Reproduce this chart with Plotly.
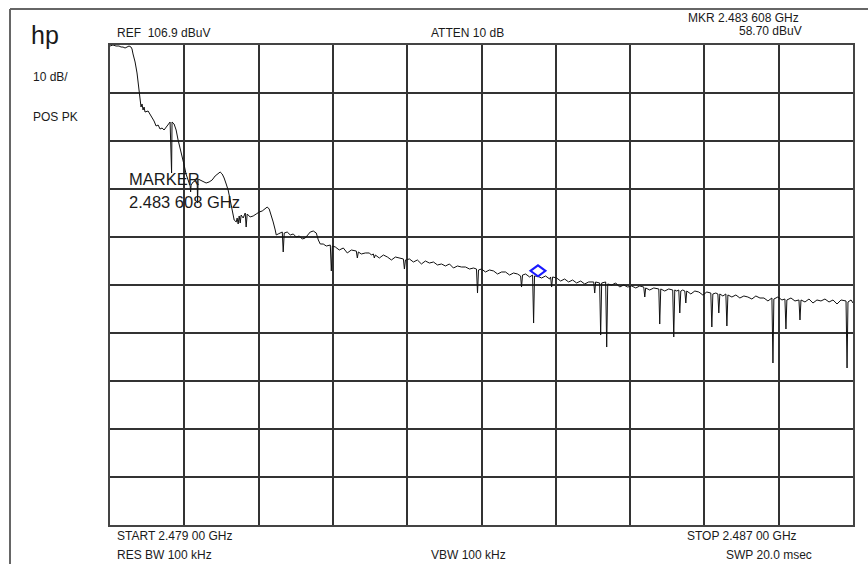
import plotly.graph_objects as go

# Sweep settings shown on the analyzer screen
START_MHZ = 2479.0
STOP_MHZ = 2487.0
REF_LEVEL = 106.9      # dBuV, top graticule line
DB_PER_DIV = 10.0
MARKER_FREQ = 2483.608  # MHz
MARKER_LEVEL = 58.70    # dBuV

# Positive-peak trace: frequency (MHz) and level (dBuV)
freq_mhz = [
    2479.000, 2479.032, 2479.065, 2479.097, 2479.119, 2479.140, 2479.162, 2479.183, 2479.205, 2479.226,
    2479.237, 2479.248, 2479.270, 2479.291, 2479.313, 2479.334, 2479.345, 2479.356, 2479.367, 2479.377,
    2479.410, 2479.431, 2479.453, 2479.474, 2479.496, 2479.518, 2479.539, 2479.561, 2479.582, 2479.604,
    2479.625, 2479.647, 2479.663, 2479.668, 2479.690, 2479.712, 2479.733, 2479.755, 2479.776, 2479.798,
    2479.819, 2479.841, 2479.863, 2479.868, 2479.873, 2479.895, 2479.916, 2479.938, 2479.943, 2479.949,
    2479.970, 2480.003, 2480.035, 2480.067, 2480.100, 2480.132, 2480.164, 2480.186, 2480.208, 2480.229,
    2480.251, 2480.272, 2480.294, 2480.315, 2480.337, 2480.359, 2480.369, 2480.380, 2480.391, 2480.402,
    2480.412, 2480.434, 2480.456, 2480.466, 2480.477, 2480.509, 2480.542, 2480.574, 2480.607, 2480.639,
    2480.671, 2480.693, 2480.714, 2480.736, 2480.757, 2480.779, 2480.790, 2480.811, 2480.833, 2480.855,
    2480.865, 2480.876, 2480.908, 2480.941, 2480.973, 2481.005, 2481.038, 2481.070, 2481.102, 2481.135,
    2481.156, 2481.189, 2481.221, 2481.243, 2481.264, 2481.296, 2481.329, 2481.372, 2481.383, 2481.394,
    2481.426, 2481.469, 2481.512, 2481.555, 2481.598, 2481.652, 2481.663, 2481.674, 2481.706, 2481.749,
    2481.793, 2481.814, 2481.836, 2481.846, 2481.857, 2481.900, 2481.944, 2481.987, 2482.030, 2482.073,
    2482.116, 2482.159, 2482.170, 2482.181, 2482.224, 2482.267, 2482.310, 2482.353, 2482.396, 2482.439,
    2482.483, 2482.526, 2482.569, 2482.612, 2482.655, 2482.698, 2482.741, 2482.784, 2482.828, 2482.871,
    2482.914, 2482.946, 2482.957, 2482.968, 2483.000, 2483.043, 2483.086, 2483.130, 2483.173, 2483.216,
    2483.259, 2483.302, 2483.345, 2483.388, 2483.421, 2483.431, 2483.442, 2483.475, 2483.518, 2483.550,
    2483.561, 2483.571, 2483.608, 2483.647, 2483.690, 2483.733, 2483.744, 2483.755, 2483.766, 2483.809,
    2483.852, 2483.895, 2483.938, 2483.981, 2484.024, 2484.068, 2484.111, 2484.154, 2484.208, 2484.219,
    2484.229, 2484.272, 2484.283, 2484.294, 2484.337, 2484.348, 2484.359, 2484.402, 2484.445, 2484.488,
    2484.531, 2484.574, 2484.617, 2484.661, 2484.704, 2484.747, 2484.758, 2484.768, 2484.811, 2484.855,
    2484.909, 2484.919, 2484.930, 2484.973, 2485.016, 2485.059, 2485.070, 2485.081, 2485.102, 2485.124,
    2485.135, 2485.146, 2485.167, 2485.189, 2485.200, 2485.210, 2485.254, 2485.297, 2485.340, 2485.383,
    2485.426, 2485.469, 2485.480, 2485.491, 2485.523, 2485.545, 2485.555, 2485.566, 2485.599, 2485.631,
    2485.642, 2485.653, 2485.696, 2485.739, 2485.782, 2485.825, 2485.868, 2485.911, 2485.954, 2485.998,
    2486.041, 2486.084, 2486.127, 2486.138, 2486.148, 2486.191, 2486.235, 2486.267, 2486.278, 2486.288,
    2486.332, 2486.375, 2486.418, 2486.429, 2486.440, 2486.483, 2486.526, 2486.569, 2486.612, 2486.655,
    2486.698, 2486.742, 2486.785, 2486.828, 2486.871, 2486.925, 2486.936, 2486.946, 2486.979, 2487.000,
]

level_dbuv = [
    106.69, 106.90, 106.69, 106.69, 106.48, 106.48, 106.27, 106.48, 106.69, 106.48,
    106.07, 105.03, 103.36, 101.07, 97.11, 93.98, 94.61, 93.36, 93.98, 92.94,
    93.15, 92.53, 91.90, 91.07, 90.03, 90.23, 89.40, 89.61, 89.19, 89.82,
    90.23, 90.86, 80.23, 90.86, 90.44, 89.19, 87.11, 85.44, 83.98, 81.90,
    80.02, 78.57, 77.53, 76.28, 77.73, 78.36, 78.57, 79.19, 73.98, 78.98,
    78.78, 78.57, 78.15, 78.36, 78.78, 79.61, 80.23, 80.44, 80.02, 79.19,
    77.94, 76.69, 74.61, 72.11, 70.44, 70.03, 70.86, 69.61, 71.28, 69.82,
    71.48, 70.86, 71.90, 68.98, 71.69, 71.07, 71.28, 71.69, 72.11, 72.32,
    72.94, 73.15, 72.73, 71.48, 70.03, 68.36, 67.32, 67.53, 67.73, 67.94,
    63.78, 67.73, 67.94, 67.32, 67.53, 66.90, 67.11, 66.48, 66.69, 67.53,
    67.94, 68.15, 67.73, 66.28, 65.44, 65.44, 65.02, 65.23, 59.82, 65.02,
    64.82, 64.19, 64.61, 63.57, 64.19, 63.98, 62.53, 63.78, 63.36, 63.57,
    63.57, 63.15, 63.36, 62.53, 63.15, 62.52, 63.15, 62.73, 62.11, 62.73,
    62.53, 62.32, 60.23, 62.11, 62.32, 61.69, 62.11, 61.28, 61.90, 61.48,
    61.69, 61.07, 61.28, 60.86, 61.28, 60.44, 60.86, 60.65, 60.65, 60.23,
    60.44, 60.23, 55.23, 60.03, 60.23, 59.61, 60.03, 59.82, 59.19, 59.61,
    59.61, 58.98, 59.40, 59.19, 58.78, 56.48, 58.98, 59.19, 58.57, 58.98,
    48.98, 58.78, 58.70, 58.36, 58.78, 58.15, 58.57, 56.48, 58.57, 58.36,
    57.73, 58.15, 57.53, 57.94, 57.32, 57.73, 57.11, 57.53, 57.53, 55.23,
    57.53, 57.32, 46.48, 57.32, 57.53, 43.98, 57.11, 56.90, 57.32, 56.48,
    56.90, 56.48, 56.69, 56.28, 56.69, 56.48, 54.40, 56.28, 55.86, 56.28,
    56.07, 48.77, 56.07, 55.65, 56.07, 55.86, 46.07, 55.86, 55.65, 55.86,
    51.07, 55.65, 55.86, 55.65, 53.15, 55.65, 55.03, 55.65, 55.44, 54.82,
    55.44, 55.23, 48.15, 55.03, 55.23, 55.03, 51.07, 55.03, 54.61, 55.03,
    48.36, 54.82, 54.40, 54.82, 54.19, 54.61, 54.40, 53.98, 54.61, 54.19,
    54.19, 53.57, 54.19, 40.65, 53.98, 54.40, 53.78, 53.98, 47.73, 53.78,
    54.19, 53.57, 53.78, 49.61, 53.78, 53.36, 53.98, 53.15, 53.78, 53.57,
    53.98, 53.36, 53.78, 52.94, 53.78, 53.57, 39.61, 53.36, 53.78, 53.15,
]

# Screen annotation texts
header_left = "REF  106.9 dBuV"
header_mid = "ATTEN 10 dB"
header_mkr = "MKR 2.483 608 GHz"
header_mkr_level = "58.70 dBuV"
side_labels = ["10 dB/", "POS PK"]
footer_start = "START 2.479 00 GHz"
footer_stop = "STOP 2.487 00 GHz"
footer_rbw = "RES BW 100 kHz"
footer_vbw = "VBW 100 kHz"
footer_swp = "SWP 20.0 msec"
marker_lines = ["MARKER", "2.483 608 GHz"]

W, H = 868, 564
ML, MR, MT, MB = 110, 15, 45, 39
PW, PH = W - ML - MR, H - MT - MB


def px(x):
    return (x - ML) / PW


def py(y):
    return (H - MB - y) / PH


FONT = "Liberation Sans, Arial, sans-serif"
SMALL = 12

fig = go.Figure()
fig.add_trace(go.Scatter(
    x=freq_mhz, y=level_dbuv, mode="lines",
    line=dict(color="#111111", width=1),
    hoverinfo="skip", showlegend=False,
))

annotations = []


def label(text, x, y, size=SMALL, anchor="left"):
    annotations.append(dict(
        text=text, x=px(x), y=py(y), xref="paper", yref="paper",
        xanchor=anchor, yanchor="middle", showarrow=False,
        font=dict(family=FONT, size=size, color="#1a1a1a"),
    ))


label("hp", 29, 35, size=25)
label(side_labels[0], 31, 77)
label(side_labels[1], 31, 117)
label(header_left, 115, 33)
label(header_mid, 429, 33)
label(header_mkr, 801, 18, anchor="right")
label(header_mkr_level, 804, 31, anchor="right")
label(footer_start, 115, 536)
label(footer_stop, 799, 536, anchor="right")
label(footer_rbw, 115, 555)
label(footer_vbw, 429, 555)
label(footer_swp, 814, 555, anchor="right")
label(marker_lines[0], 127, 179, size=16.5)
label(marker_lines[1], 127, 202, size=16.5)

shapes = [
    # outer screen frame (top and left edges)
    dict(type="line", xref="paper", yref="paper",
         x0=px(10), x1=px(870), y0=py(9), y1=py(9),
         line=dict(color="#666666", width=2)),
    dict(type="line", xref="paper", yref="paper",
         x0=px(10), x1=px(10), y0=py(9), y1=py(566),
         line=dict(color="#666666", width=2)),
    # marker diamond sitting on the trace at the marker frequency
    dict(type="path", xref="x", yref="y",
         xsizemode="pixel", ysizemode="pixel",
         xanchor=MARKER_FREQ, yanchor=MARKER_LEVEL,
         path="M 0 0 L 7.5 5.5 L 0 11 L -7.5 5.5 Z",
         line=dict(color="#1a1aff", width=2)),
]

fig.update_layout(
    width=W, height=H,
    margin=dict(l=ML, r=MR, t=MT, b=MB, pad=0),
    paper_bgcolor="white", plot_bgcolor="white",
    showlegend=False,
    annotations=annotations,
    shapes=shapes,
    xaxis=dict(
        range=[START_MHZ, STOP_MHZ], tick0=START_MHZ, dtick=(STOP_MHZ - START_MHZ) / 10,
        showticklabels=False, ticks="", zeroline=False,
        showgrid=True, gridcolor="#333333", gridwidth=1.5,
        showline=True, mirror=True, linecolor="#444444", linewidth=1.5,
    ),
    yaxis=dict(
        range=[REF_LEVEL - 10 * DB_PER_DIV, REF_LEVEL], tick0=REF_LEVEL, dtick=DB_PER_DIV,
        showticklabels=False, ticks="", zeroline=False,
        showgrid=True, gridcolor="#333333", gridwidth=1.5,
        showline=True, mirror=True, linecolor="#444444", linewidth=1.5,
    ),
)

fig.write_html("out.html")
